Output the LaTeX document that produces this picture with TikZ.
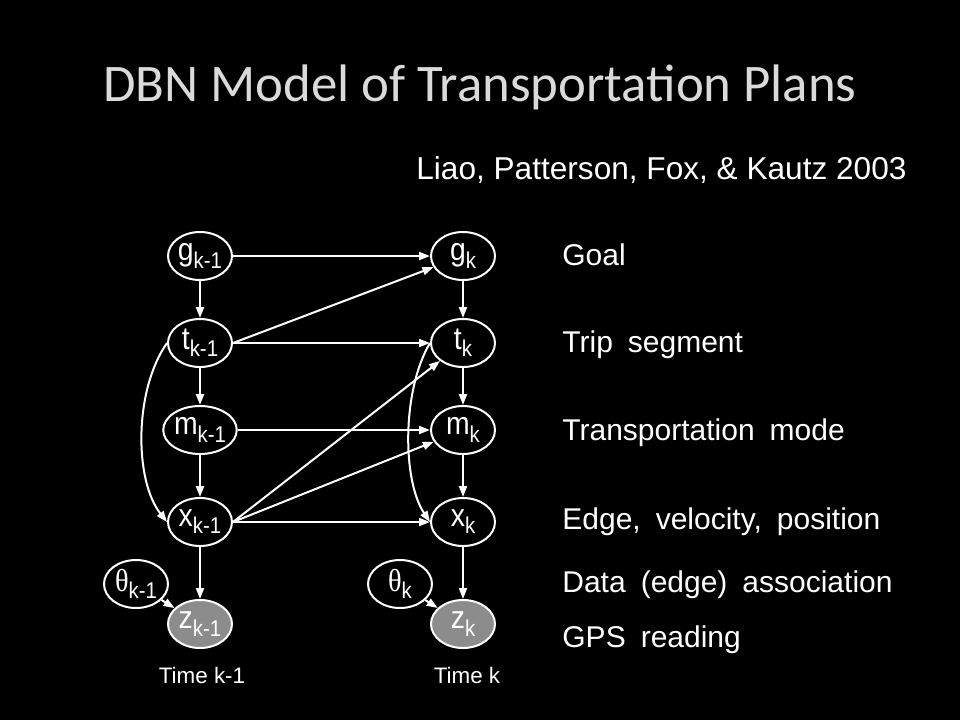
\documentclass[tikz,border=0pt]{standalone}
\usepackage{fontspec}
\setmainfont{Liberation Sans}
\newfontfamily\titlefont{Carlito}
\newfontfamily\greekfont{Liberation Serif}
\usetikzlibrary{arrows.meta,shapes.geometric}

\definecolor{titleGray}{RGB}{218,218,218}
\definecolor{obsGray}{RGB}{140,140,140}
\newcommand{\idx}[2]{\scalebox{1}[1.12]{#1\raisebox{-3.2pt}{\fontsize{10.2}{10}\selectfont #2}}}
\newcommand{\rowfont}{\fontsize{15}{15}\selectfont\spaceskip=0.5em plus 0.1em\relax}

\begin{document}
\begin{tikzpicture}[x=0.5pt, y=-0.5pt,
        var/.style={ellipse, draw=white, line width=1pt, minimum width=32pt, minimum height=24pt, inner sep=0pt, text=white, font=\fontsize{14.2}{14}\selectfont},
        obs/.style={var, fill=obsGray},
        edge/.style={draw=white, line width=1pt, -{Triangle[length=5.5pt,width=4pt]}},
        rowText/.style={anchor=base west, inner sep=0pt, text=white, font=\rowfont},
        timeText/.style={anchor=base, inner sep=0pt, text=white, font=\fontsize{11.2}{12}\selectfont}]
        % --- Background and titles ---
        \fill[black] (0,0) rectangle (960,720);
        \useasboundingbox (0,0) rectangle (960,720);
        \node[anchor=base, text=titleGray, font=\titlefont\fontsize{26.4}{28}\selectfont] (title) at (480,101) {DBN Model of Transportation Plans};
        \node[anchor=base west, inner sep=0pt, text=white, font=\fontsize{15.8}{17}\selectfont] (authors) at (416,179) {Liao, Patterson, Fox, \& Kautz 2003};
        % ---

        % --- Time slice k-1 ---
        \node[var] (gPrev) at (200,256) {\idx{g}{k-1}};
        \node[var] (tPrev) at (200,343) {\idx{t}{k-1}};
        \node[var] (mPrev) at (200,430) {\idx{m}{k-1}};
        \node[var] (xPrev) at (200,522) {\idx{x}{k-1}};
        \node[var] (thPrev) at (136,584) {\idx{{\greekfont θ}}{k-1}};
        \node[obs] (zPrev) at (200,624) {\idx{z}{k-1}};
        \node[timeText] (timePrev) at (202,683) {Time k-1};
        % ---

        % --- Time slice k ---
        \node[var] (gNext) at (463,256) {\idx{g}{k}};
        \node[var] (tNext) at (463,343) {\idx{t}{k}};
        \node[var] (mNext) at (463,430) {\idx{m}{k}};
        \node[var] (xNext) at (463,522) {\idx{x}{k}};
        \node[var] (thNext) at (400,584) {\idx{{\greekfont θ}}{k}};
        \node[obs] (zNext) at (463,624) {\idx{z}{k}};
        \node[timeText] (timeNext) at (467,683) {Time k};
        % ---

        % --- Arrows within a slice ---
        \draw[edge] (gPrev) -- (tPrev);
        \draw[edge] (tPrev) -- (mPrev);
        \draw[edge] (mPrev) -- (xPrev);
        \draw[edge] (xPrev) -- (zPrev);
        \draw[edge] (thPrev) -- (zPrev);
        \draw[edge] (tPrev.west) .. controls +(-33,47) and +(-33,-42) .. (xPrev.west);
        \draw[edge] (gNext) -- (tNext);
        \draw[edge] (tNext) -- (mNext);
        \draw[edge] (mNext) -- (xNext);
        \draw[edge] (xNext) -- (zNext);
        \draw[edge] (thNext) -- (zNext);
        \draw[edge] (tNext.west) .. controls +(-28,47) and +(-28,-42) .. (xNext.west);
        % ---

        % --- Arrows between slices ---
        \draw[edge] (gPrev) -- (gNext);
        \draw[edge] (tPrev.east) -- (gNext);
        \draw[edge] (tPrev.east) -- (tNext);
        \draw[edge] (mPrev) -- (mNext);
        \draw[edge] (xPrev.east) -- (tNext);
        \draw[edge] (xPrev.east) -- (mNext);
        \draw[edge] (xPrev.east) -- (xNext);
        % ---

        % --- Row labels ---
        \node[rowText] (goal) at (562,265) {Goal};
        \node[rowText] (trip) at (562,352) {Trip segment};
        \node[rowText] (mode) at (562,440) {Transportation mode};
        \node[rowText] (edgeRow) at (562,529) {Edge, velocity, position};
        \node[rowText] (assoc) at (562,592) {Data (edge) association};
        \node[rowText] (gps) at (562,647) {GPS reading};
        % ---
\end{tikzpicture}
\end{document}
